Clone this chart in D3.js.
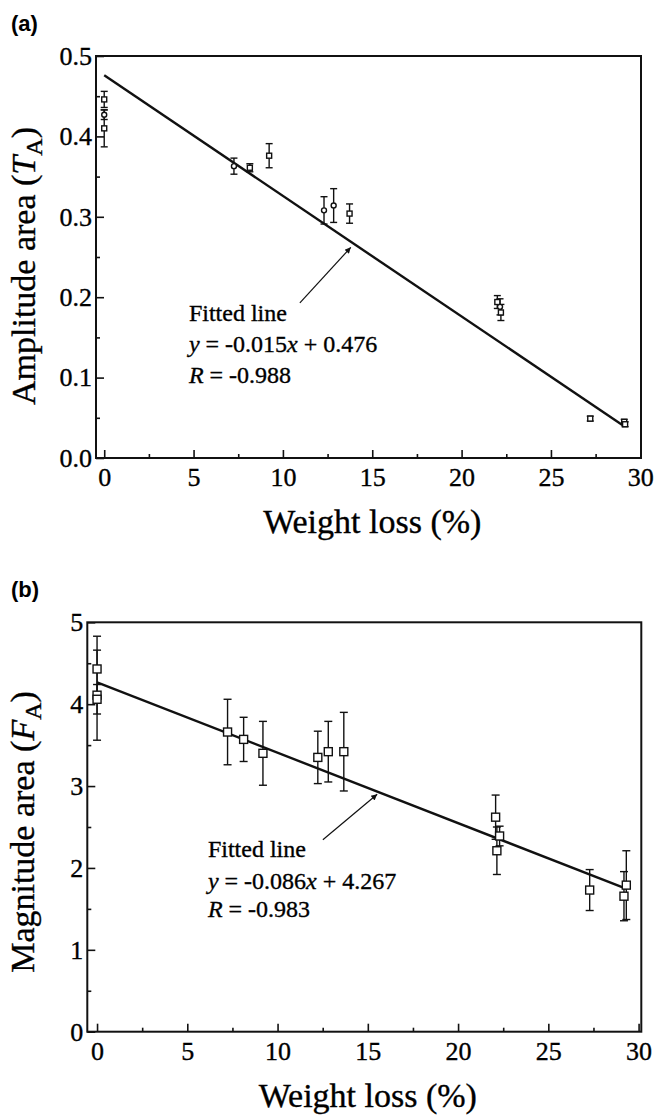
<!DOCTYPE html>
<html>
<head>
<meta charset="utf-8">
<script src="https://cdn.jsdelivr.net/npm/d3@7"></script>
<style>
  body { margin: 0; background: #fff; }
  svg { display: block; }
  svg text { font-family: "Times New Roman", "Liberation Serif", "DejaVu Serif", serif; fill: #000; stroke: #000; stroke-width: 0.35px; }
  svg text.tag { font-family: "Liberation Sans", Arial, "DejaVu Sans", sans-serif; font-weight: bold; stroke: none; }
</style>
</head>
<body>
<div id="chart"></div>
<script>
// panel (a) : amplitude area vs weight loss
const xA   = [0, 0, 0, 7.26, 8.15, 9.23, 12.3, 12.84, 13.73, 22.0, 22.15, 22.2, 27.2, 29.1, 29.15];
const yA   = [0.446, 0.427, 0.410, 0.363, 0.361, 0.376, 0.308, 0.314, 0.304, 0.194, 0.188, 0.181, 0.049, 0.045, 0.042];
const errA = [0.010, 0.006, 0.023, 0.010, 0.005, 0.015, 0.017, 0.021, 0.012, 0.008, 0.010, 0.010, 0.003, 0.003, 0.003];
const symA = ["s", "c", "s", "c", "s", "s", "c", "c", "s", "s", "c", "s", "s", "s", "s"];
const fitA = [-0.015, 0.476];          // slope, intercept
const fitRangeA = [0, 29.1];
const yTicksA = [0, 0.1, 0.2, 0.3, 0.4, 0.5];
const yMinorA = [0.05, 0.15, 0.25, 0.35, 0.45];

// panel (b) : magnitude area vs weight loss
const xB   = [0, 0, 0, 7.23, 8.12, 9.19, 12.23, 12.81, 13.67, 22.08, 22.3, 22.15, 27.29, 29.32, 29.19];
const yB   = [4.43, 4.11, 4.06, 3.66, 3.57, 3.40, 3.35, 3.42, 3.42, 2.62, 2.39, 2.21, 1.73, 1.79, 1.655];
const errB = [0.40, 0.55, 0.18, 0.40, 0.27, 0.39, 0.32, 0.37, 0.48, 0.27, 0.12, 0.29, 0.25, 0.42, 0.30];
const fitB = [-0.086, 4.267];
const fitRangeB = [0, 29.3];
const yTicksB = [0, 1, 2, 3, 4, 5];
const yMinorB = [0.5, 1.5, 2.5, 3.5, 4.5];

const xTicks = [0, 5, 10, 15, 20, 25, 30];
const xMinor = [2.5, 7.5, 12.5, 17.5, 22.5, 27.5];

const eqA = ["-0.015", "0.476", "-0.988"];
const eqB = ["-0.086", "4.267", "-0.983"];

const serif = "'Times New Roman', 'Liberation Serif', 'DejaVu Serif', serif";

const svg = d3.select("#chart")
    .append("svg")
    .attr("width", 657)
    .attr("height", 1115)
    .attr("font-family", serif);

function panel(o) {
    const x = d3.scaleLinear().domain(o.xDom).range([o.left, o.right]);
    const y = d3.scaleLinear().domain(o.yDom).range([o.bottom, o.top]);
    const g = svg.append("g");

    g.append("text")
        .attr("class", "tag")
        .attr("x", 11)
        .attr("y", o.top - 25)
        .style("font-size", "22px")
        .text(o.tag);

    // ticks point inward
    g.append("g")
        .attr("transform", `translate(0, ${o.bottom})`)
        .call(d3.axisBottom(x).tickValues(xTicks).tickSize(-8).tickPadding(10));
    g.append("g")
        .attr("transform", `translate(0, ${o.bottom})`)
        .call(d3.axisBottom(x).tickValues(xMinor).tickSize(-4).tickFormat(""));
    g.append("g")
        .attr("transform", `translate(${o.left}, 0)`)
        .call(d3.axisLeft(y).tickValues(o.yTicks).tickSize(-8).tickPadding(4).tickFormat(o.fmt));
    g.append("g")
        .attr("transform", `translate(${o.left}, 0)`)
        .call(d3.axisLeft(y).tickValues(o.yMinor).tickSize(-4).tickFormat(""));

    g.selectAll(".domain").remove();
    g.selectAll("g").attr("font-family", serif);
    g.selectAll(".tick line").attr("stroke", "#111").attr("stroke-width", 1.6);
    g.selectAll(".tick text")
        .style("font-size", "26px")
        .style("font-family", serif)
        .attr("fill", "#000");

    g.append("rect")
        .attr("x", o.left)
        .attr("y", o.top)
        .attr("width", o.right - o.left)
        .attr("height", o.bottom - o.top)
        .attr("fill", "none")
        .attr("stroke", "#111")
        .attr("stroke-width", 2);

    // fitted line
    g.append("line")
        .attr("x1", x(o.fitRange[0]))
        .attr("y1", y(o.fit[0] * o.fitRange[0] + o.fit[1]))
        .attr("x2", x(o.fitRange[1]))
        .attr("y2", y(o.fit[0] * o.fitRange[1] + o.fit[1]))
        .attr("stroke", "#111")
        .attr("stroke-width", 2.4);

    const pts = o.xs.map((d, i) => ({x: d, y: o.ys[i], e: o.errs[i], s: o.syms ? o.syms[i] : "s"}));

    const bars = g.selectAll(".err")
        .data(pts)
        .enter()
        .append("g")
        .attr("class", "err")
        .attr("stroke", "#111")
        .attr("stroke-width", 1.4);
    bars.append("line")
        .attr("x1", d => x(d.x)).attr("x2", d => x(d.x))
        .attr("y1", d => y(d.y - d.e)).attr("y2", d => y(d.y + d.e));
    bars.append("line")
        .attr("x1", d => x(d.x) - o.cap).attr("x2", d => x(d.x) + o.cap)
        .attr("y1", d => y(d.y + d.e)).attr("y2", d => y(d.y + d.e));
    bars.append("line")
        .attr("x1", d => x(d.x) - o.cap).attr("x2", d => x(d.x) + o.cap)
        .attr("y1", d => y(d.y - d.e)).attr("y2", d => y(d.y - d.e));

    const m = o.mark;
    g.selectAll(".sq")
        .data(pts.filter(d => d.s === "s"))
        .enter()
        .append("rect")
        .attr("x", d => x(d.x) - m / 2)
        .attr("y", d => y(d.y) - m / 2)
        .attr("width", m)
        .attr("height", m)
        .attr("fill", "#fff")
        .attr("stroke", "#111")
        .attr("stroke-width", 1.4);
    g.selectAll(".ci")
        .data(pts.filter(d => d.s === "c"))
        .enter()
        .append("circle")
        .attr("cx", d => x(d.x))
        .attr("cy", d => y(d.y))
        .attr("r", m / 2)
        .attr("fill", "#fff")
        .attr("stroke", "#111")
        .attr("stroke-width", 1.4);

    // annotation arrow
    const id = "arr" + o.tag.charAt(1);
    g.append("defs").append("marker")
        .attr("id", id)
        .attr("viewBox", "0 0 10 10")
        .attr("refX", 10).attr("refY", 5)
        .attr("markerWidth", 11).attr("markerHeight", 6)
        .attr("markerUnits", "userSpaceOnUse")
        .attr("orient", "auto")
        .append("path")
        .attr("d", "M0,0 L10,5 L0,10 z")
        .attr("fill", "#111");
    g.append("line")
        .attr("x1", x(o.arrow[0])).attr("y1", y(o.arrow[1]))
        .attr("x2", x(o.arrow[2])).attr("y2", y(o.arrow[3]))
        .attr("stroke", "#111")
        .attr("stroke-width", 1.2)
        .attr("marker-end", `url(#${id})`);

    const tx = x(o.note[0]);
    g.append("text")
        .attr("x", tx).attr("y", y(o.note[1]))
        .style("font-size", "24px")
        .text("Fitted line");
    const l2 = g.append("text")
        .attr("x", tx).attr("y", y(o.note[2]))
        .style("font-size", "24px");
    l2.append("tspan").style("font-style", "italic").text("y");
    l2.append("tspan").text(` = ${o.eq[0]}`);
    l2.append("tspan").style("font-style", "italic").text("x");
    l2.append("tspan").text(` + ${o.eq[1]}`);
    const l3 = g.append("text")
        .attr("x", tx).attr("y", y(o.note[3]))
        .style("font-size", "24px");
    l3.append("tspan").style("font-style", "italic").text("R");
    l3.append("tspan").text(` = ${o.eq[2]}`);

    // axis titles
    g.append("text")
        .attr("x", (x(0) + x(30)) / 2)
        .attr("y", o.bottom + 75)
        .attr("text-anchor", "middle")
        .style("font-size", "34px")
        .text("Weight loss (%)");

    const yt = g.append("text")
        .attr("transform", `translate(${o.yTitleX}, ${(o.top + o.bottom) / 2 + o.yShift}) rotate(-90)`)
        .attr("text-anchor", "middle")
        .style("font-size", "34px");
    yt.append("tspan").text(o.yName + " (");
    yt.append("tspan").style("font-style", "italic").text(o.yVar);
    yt.append("tspan").attr("dy", 7).style("font-size", "24px").text("A");
    yt.append("tspan").attr("dy", -7).text(")");
}

panel({
    tag: "(a)", left: 96, right: 641, top: 56, bottom: 458,
    xDom: [-0.46, 30.04], yDom: [0, 0.5],
    yTicks: yTicksA, yMinor: yMinorA, fmt: d3.format(".1f"),
    xs: xA, ys: yA, errs: errA, syms: symA, mark: 5, cap: 3.5,
    fit: fitA, fitRange: fitRangeA,
    arrow: [10.95, 0.193, 13.8, 0.262],
    note: [4.74, 0.170, 0.132, 0.093], eq: eqA,
    yName: "Amplitude area", yVar: "T", yTitleX: 35, yShift: 9
});

panel({
    tag: "(b)", left: 87.3, right: 641.3, top: 622.3, bottom: 1031.7,
    xDom: [-0.54, 30.15], yDom: [0, 5],
    yTicks: yTicksB, yMinor: yMinorB, fmt: d3.format("d"),
    xs: xB, ys: yB, errs: errB, mark: 8, cap: 4,
    fit: fitB, fitRange: fitRangeB,
    arrow: [12.51, 2.344, 15.52, 2.90],
    note: [6.14, 2.137, 1.748, 1.395], eq: eqB,
    yName: "Magnitude area", yVar: "F", yTitleX: 34, yShift: 5
});
</script>
</body>
</html>
